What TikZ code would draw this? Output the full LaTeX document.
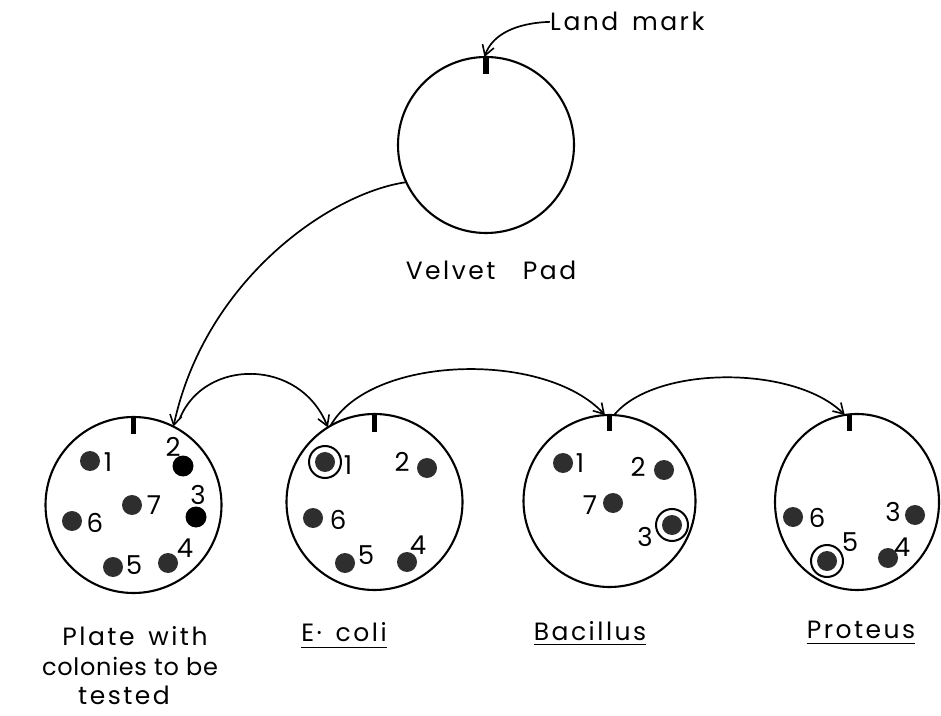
\documentclass[tikz,border=0pt]{standalone}
\usepackage{fontspec}
\setmainfont{Poppins}
\newfontfamily\labfam{Poppins}[LetterSpace=10,WordSpace=1.5]
\newfontfamily\labtight{Poppins}[LetterSpace=3]
\usetikzlibrary{arrows.meta,shapes.geometric}
\newcommand\labfont{\labfam\fontsize{25}{30}\selectfont}
\newcommand\numfont{\fontsize{26}{30}\selectfont}
\newcommand\colony[4]{\node[#4] (#1) at (#2,#3) {};}
\newcommand\cnum[4]{\node[num] (#1) at (#2,#3) {#4};}
\begin{document}
\begin{tikzpicture}[x=1pt,y=1pt,
  plate/.style={circle,draw,line width=2.1pt,minimum size=176pt,inner sep=0pt,outer sep=0pt},
  col/.style={circle,fill=black!82,minimum size=20pt,inner sep=0pt},
  colk/.style={circle,fill=black,minimum size=21pt,inner sep=0pt},
  ringc/.style={circle,draw,line width=2pt,minimum size=32pt,inner sep=0pt},
  num/.style={font=\numfont,inner sep=0pt},
  lab/.style={font=\labfont,inner sep=0pt,anchor=base},
  lmark/.style={line width=5.5pt},
  uline/.style={line width=1.6pt},
  conn/.style={line width=1.7pt,-{Straight Barb[length=10pt,width=12pt,line width=1.6pt]}},
]
\useasboundingbox[fill=white] (0,0) rectangle (941,715);

% velvet pad
\node[plate] (vp) at (486,570) {};
\draw[lmark] (vp.north) -- ++(0,-17);
\node[lab] (vpl) at (491,435) {Velvet~~Pad};
\node[lab,anchor=base west] (lm) at (550,684) {Land mark};
\draw[conn] (lm.west) .. controls (515,692) and (492,680) .. (vp.91);

% plates
\node[plate] (p1) at (133.5,210) {};
\node[plate] (p2) at (374.5,213) {};
\node[plate,minimum size=172pt] (p3) at (609.5,214) {};
\node[plate,ellipse,minimum width=164pt,minimum height=176pt] (p4) at (857,213) {};
\draw[lmark] (p1.north) -- ++(0,-17);
\draw[lmark] (p2.north) -- ++(0,-18);
\draw[lmark] (p3.north) -- ++(0,-16);
\draw[lmark] (p4.95) -- ++(0,-17);

% connectors
\coordinate (s12) at (180,297);
\draw[conn] (vp.205) .. controls (330,522) and (205,435) .. (p1.63);
\draw[conn] (s12) .. controls (205,357) and (300,357) .. (p2.122);
\draw[conn] (p2.120) .. controls (370,360) and (545,365) .. (p3.93);
\draw[conn] (p3.87) .. controls (655,350) and (795,350) .. (p4.98);

% plate 1 colonies
\colony{a1}{90}{254}{col}   \cnum{na1}{108}{253}{1}
\colony{a2}{183}{249}{colk} \cnum{na2}{173}{268}{2}
\colony{a3}{196}{198}{colk} \cnum{na3}{198}{220}{3}
\colony{a7}{132}{210}{col}  \cnum{na7}{154}{210}{7}
\colony{a6}{72}{194}{col}   \cnum{na6}{95}{192}{6}
\colony{a5}{113}{148}{col}  \cnum{na5}{134}{150}{5}
\colony{a4}{168}{152}{col}  \cnum{na4}{185}{167}{4}

% plate 2 colonies
\colony{b1r}{325}{253}{ringc}
\colony{b1}{325}{253}{col}  \cnum{nb1}{348}{250}{1}
\colony{b2}{427}{247}{col}  \cnum{nb2}{402}{253}{2}
\colony{b6}{313}{197}{col}  \cnum{nb6}{338}{195}{6}
\colony{b5}{345}{152}{col}  \cnum{nb5}{366}{160}{5}
\colony{b4}{407}{153}{col}  \cnum{nb4}{418}{170}{4}

% plate 3 colonies
\colony{c1}{563}{252}{col}  \cnum{nc1}{580}{252}{1}
\colony{c2}{664}{245}{col}  \cnum{nc2}{638}{248}{2}
\colony{c7}{613}{212}{col}  \cnum{nc7}{590}{210}{7}
\colony{c3r}{672}{190}{ringc}
\colony{c3}{672}{190}{col}  \cnum{nc3}{645}{178}{3}

% plate 4 colonies
\colony{d6}{793}{198}{col}  \cnum{nd6}{817}{197}{6}
\colony{d3}{915}{200}{col}  \cnum{nd3}{893}{203}{3}
\colony{d5r}{827}{154}{ringc}
\colony{d5}{827}{154}{col}  \cnum{nd5}{850}{173}{5}
\colony{d4}{888}{157}{col}  \cnum{nd4}{902}{168}{4}

% bottom labels
\node[lab] (t1) at (135,70) {Plate with};
\node[lab,font=\labtight\fontsize{24}{30}\selectfont] (t2) at (130,40) {colonies to be};
\node[lab] (t3) at (124,11) {tested};
\node[lab] (ec) at (344,74) {E· coli};
\node[lab] (ba) at (590,75) {Bacillus};
\node[lab] (pr) at (861,77) {Proteus};
\draw[uline] ([yshift=-6pt]ec.south west) -- ([yshift=-6pt]ec.south east);
\draw[uline] ([yshift=-4pt]ba.south west) -- ([yshift=-4pt]ba.south east);
\draw[uline] ([yshift=-5pt]pr.south west) -- ([yshift=-5pt]pr.south east);
\end{tikzpicture}
\end{document}
